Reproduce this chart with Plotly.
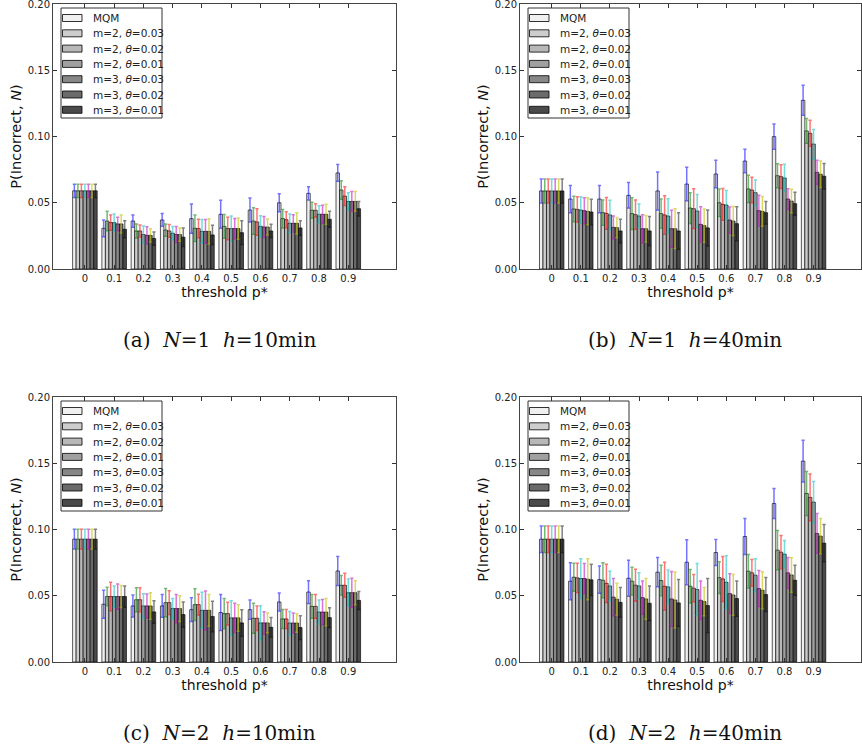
import plotly.graph_objects as go

# thresholds p*
thresholds = ['0', '0.1', '0.2', '0.3', '0.4', '0.5', '0.6', '0.7', '0.8', '0.9']
series = ['MQM', 'm=2, <i>θ</i>=0.03', 'm=2, <i>θ</i>=0.02', 'm=2, <i>θ</i>=0.01',
          'm=3, <i>θ</i>=0.03', 'm=3, <i>θ</i>=0.02', 'm=3, <i>θ</i>=0.01']
captions = ['(a)  <i>N</i>=1  <i>h</i>=10min', '(b)  <i>N</i>=1  <i>h</i>=40min',
            '(c)  <i>N</i>=2  <i>h</i>=10min', '(d)  <i>N</i>=2  <i>h</i>=40min']

# (a) N=1 h=10min, one row per series
vals_a = [
    [0.059, 0.0307, 0.0362, 0.037, 0.038, 0.0413, 0.0445, 0.050, 0.0571, 0.0725],
    [0.059, 0.0362, 0.0287, 0.0294, 0.0307, 0.0322, 0.0362, 0.038, 0.0443, 0.0596],
    [0.059, 0.035, 0.0287, 0.0287, 0.0305, 0.0305, 0.0355, 0.0372, 0.0443, 0.055],
    [0.059, 0.035, 0.026, 0.027, 0.0284, 0.0305, 0.0322, 0.0345, 0.0413, 0.051],
    [0.059, 0.034, 0.0254, 0.026, 0.0284, 0.0305, 0.0317, 0.0345, 0.0413, 0.051],
    [0.059, 0.034, 0.0254, 0.026, 0.0284, 0.0305, 0.0317, 0.0345, 0.0413, 0.051],
    [0.059, 0.030, 0.023, 0.024, 0.0257, 0.0274, 0.0287, 0.031, 0.0375, 0.0455],
]
errs_a = [
    [0.005, 0.0063, 0.0046, 0.0048, 0.011, 0.0105, 0.009, 0.0068, 0.005, 0.0063],
    [0.005, 0.0073, 0.0053, 0.0046, 0.010, 0.009, 0.010, 0.007, 0.006, 0.007],
    [0.005, 0.0058, 0.0045, 0.0048, 0.007, 0.0085, 0.010, 0.006, 0.005, 0.007],
    [0.005, 0.0065, 0.0065, 0.005, 0.009, 0.0095, 0.008, 0.007, 0.0065, 0.0066],
    [0.005, 0.005, 0.0065, 0.006, 0.009, 0.0077, 0.008, 0.0065, 0.0068, 0.0074],
    [0.005, 0.0068, 0.005, 0.005, 0.0096, 0.008, 0.006, 0.008, 0.0075, 0.0074],
    [0.005, 0.0065, 0.005, 0.007, 0.0073, 0.009, 0.005, 0.0055, 0.006, 0.0055],
]

# (b) N=1 h=40min
vals_b = [
    [0.0589, 0.0528, 0.0528, 0.0556, 0.0589, 0.0641, 0.0717, 0.0815, 0.0999, 0.1273],
    [0.0589, 0.0453, 0.0425, 0.0418, 0.0418, 0.046, 0.050, 0.0604, 0.0704, 0.1042],
    [0.0589, 0.045, 0.042, 0.041, 0.0408, 0.0455, 0.0488, 0.0596, 0.0697, 0.1024],
    [0.0589, 0.0445, 0.0408, 0.040, 0.040, 0.0438, 0.0483, 0.0576, 0.0687, 0.0943],
    [0.0589, 0.044, 0.0314, 0.0304, 0.0304, 0.0337, 0.037, 0.044, 0.0528, 0.073],
    [0.0589, 0.0435, 0.0312, 0.0304, 0.0304, 0.0327, 0.0362, 0.0435, 0.0513, 0.0715],
    [0.0589, 0.043, 0.0287, 0.0287, 0.0287, 0.031, 0.0342, 0.0425, 0.0493, 0.070],
]
errs_b = [
    [0.009, 0.0103, 0.0103, 0.0096, 0.0143, 0.0126, 0.0103, 0.0088, 0.0095, 0.0113],
    [0.009, 0.0097, 0.0095, 0.012, 0.011, 0.0116, 0.0103, 0.0103, 0.009, 0.0093],
    [0.009, 0.0096, 0.012, 0.011, 0.0145, 0.015, 0.012, 0.0096, 0.009, 0.0098],
    [0.009, 0.010, 0.011, 0.009, 0.013, 0.0125, 0.011, 0.0096, 0.0103, 0.011],
    [0.009, 0.0098, 0.0086, 0.0106, 0.014, 0.0133, 0.0098, 0.0116, 0.0078, 0.009],
    [0.009, 0.010, 0.0077, 0.010, 0.015, 0.0126, 0.011, 0.0113, 0.0088, 0.010],
    [0.009, 0.0096, 0.0088, 0.011, 0.0138, 0.0136, 0.0128, 0.0085, 0.0087, 0.0097],
]

# (c) N=2 h=10min
vals_c = [
    [0.0927, 0.0436, 0.0423, 0.0423, 0.0395, 0.0373, 0.0395, 0.0453, 0.0528, 0.0687],
    [0.0927, 0.0494, 0.047, 0.0448, 0.0433, 0.0365, 0.033, 0.0325, 0.042, 0.0579],
    [0.0927, 0.0494, 0.047, 0.0448, 0.0433, 0.0365, 0.033, 0.0325, 0.042, 0.0579],
    [0.0927, 0.0494, 0.0423, 0.0403, 0.039, 0.0333, 0.0295, 0.0294, 0.0377, 0.0523],
    [0.0927, 0.0494, 0.0423, 0.0403, 0.039, 0.0333, 0.0295, 0.0294, 0.0377, 0.0523],
    [0.0927, 0.0494, 0.0423, 0.0403, 0.039, 0.0333, 0.0295, 0.0294, 0.0377, 0.0523],
    [0.0927, 0.0494, 0.0378, 0.0358, 0.0343, 0.0295, 0.0262, 0.026, 0.0335, 0.0465],
]
errs_c = [
    [0.0075, 0.0105, 0.0083, 0.0086, 0.009, 0.0136, 0.0073, 0.0068, 0.0086, 0.011],
    [0.0075, 0.007, 0.009, 0.0106, 0.012, 0.0114, 0.0113, 0.0072, 0.009, 0.0073],
    [0.0075, 0.0108, 0.009, 0.009, 0.0078, 0.0086, 0.0093, 0.0072, 0.009, 0.009],
    [0.0075, 0.008, 0.0093, 0.0076, 0.0136, 0.013, 0.013, 0.0088, 0.009, 0.0103],
    [0.0075, 0.0095, 0.009, 0.0106, 0.0146, 0.011, 0.0085, 0.0075, 0.0095, 0.011],
    [0.0075, 0.0083, 0.010, 0.0097, 0.012, 0.010, 0.0075, 0.007, 0.0103, 0.009],
    [0.0075, 0.008, 0.0085, 0.0095, 0.0115, 0.010, 0.0073, 0.009, 0.0075, 0.0068],
]

# (d) N=2 h=40min
vals_d = [
    [0.0927, 0.061, 0.0622, 0.0632, 0.0678, 0.0753, 0.0826, 0.0947, 0.1196, 0.1516],
    [0.0927, 0.064, 0.0617, 0.061, 0.0615, 0.0572, 0.0637, 0.0685, 0.0844, 0.1272],
    [0.0927, 0.0635, 0.0594, 0.058, 0.0572, 0.0557, 0.0627, 0.0673, 0.0829, 0.1242],
    [0.0927, 0.063, 0.0574, 0.0574, 0.0567, 0.0547, 0.0602, 0.0655, 0.0814, 0.1207],
    [0.0927, 0.063, 0.049, 0.0486, 0.0476, 0.0466, 0.0516, 0.0554, 0.0673, 0.097],
    [0.0927, 0.0625, 0.0474, 0.0476, 0.0468, 0.0456, 0.0506, 0.0542, 0.0657, 0.095],
    [0.0927, 0.062, 0.045, 0.0443, 0.0446, 0.0426, 0.0479, 0.0509, 0.0617, 0.0897],
]
errs_d = [
    [0.010, 0.014, 0.0103, 0.0136, 0.011, 0.017, 0.0098, 0.0136, 0.0113, 0.0157],
    [0.010, 0.0106, 0.0133, 0.0105, 0.0115, 0.0126, 0.012, 0.0126, 0.0148, 0.0166],
    [0.010, 0.011, 0.0144, 0.012, 0.018, 0.0103, 0.017, 0.010, 0.0126, 0.0176],
    [0.010, 0.015, 0.011, 0.010, 0.0128, 0.0196, 0.020, 0.0125, 0.0103, 0.0156],
    [0.010, 0.0113, 0.014, 0.0126, 0.0207, 0.0146, 0.015, 0.0136, 0.0116, 0.015],
    [0.010, 0.0155, 0.012, 0.0154, 0.0212, 0.0106, 0.0154, 0.014, 0.013, 0.0133],
    [0.010, 0.0118, 0.0113, 0.013, 0.0176, 0.0204, 0.0133, 0.0128, 0.0113, 0.014],
]

bar_colors = ['#f0f0f0', '#cdcdcd', '#b8b8b8', '#a0a0a0', '#878787', '#6a6a6a', '#4a4a4a']
err_colors = ['rgba(0,0,255,0.55)', 'rgba(0,128,0,0.55)', 'rgba(255,0,0,0.55)',
              'rgba(0,191,191,0.55)', 'rgba(191,0,191,0.55)', 'rgba(191,191,0,0.6)',
              'rgba(0,0,0,0.5)']

W, H = 862, 752
panels = [(vals_a, errs_a), (vals_b, errs_b), (vals_c, errs_c), (vals_d, errs_d)]
xdom = [[53 / W, 396 / W], [520 / W, 861 / W], [53 / W, 396 / W], [520 / W, 861 / W]]
ydom = [[1 - 269 / H, 1 - 4 / H], [1 - 269 / H, 1 - 4 / H],
        [1 - 662 / H, 1 - 397 / H], [1 - 662 / H, 1 - 397 / H]]
xpos = list(range(len(thresholds)))

fig = go.Figure()

for p, (vals, errs) in enumerate(panels):
    sfx = '' if p == 0 else str(p + 1)
    for i, name in enumerate(series):
        fig.add_trace(go.Bar(
            x=xpos, y=vals[i], name=name, showlegend=False,
            xaxis='x' + sfx, yaxis='y' + sfx,
            marker=dict(color=bar_colors[i], line=dict(color='rgba(0,0,0,0.65)', width=1)),
            error_y=dict(type='data', array=errs[i], visible=True,
                         color=err_colors[i], thickness=1.5, width=1.6),
        ))

layout = dict(
    width=W, height=H,
    margin=dict(l=0, r=0, t=0, b=0),
    paper_bgcolor='white', plot_bgcolor='white',
    barmode='group', bargap=0.16, bargroupgap=0,
    font=dict(family='DejaVu Sans', size=10, color='#222'),
    annotations=[], shapes=[],
)

for p in range(4):
    sfx = '' if p == 0 else str(p + 1)
    layout['xaxis' + sfx] = dict(
        domain=xdom[p], anchor='y' + sfx, range=[-1.09, 10.63], automargin=False,
        tickvals=xpos, ticktext=thresholds, ticks='inside', ticklen=4,
        tickcolor='#333', showline=True, linecolor='#444', linewidth=1,
        mirror='ticks', showgrid=False, zeroline=False,
        tickfont=dict(size=10), ticklabeloverflow='allow',
        title=dict(text='threshold p*', font=dict(size=14, color='#111'), standoff=2),
    )
    layout['yaxis' + sfx] = dict(
        domain=ydom[p], anchor='x' + sfx, range=[0, 0.2], automargin=False,
        tickvals=[0, 0.05, 0.10, 0.15, 0.20], tickformat='.2f',
        ticks='inside', ticklen=4, tickcolor='#333',
        showline=True, linecolor='#444', linewidth=1, mirror='ticks',
        showgrid=False, zeroline=False, tickfont=dict(size=10), ticklabeloverflow='allow',
        title=dict(text='P(Incorrect, <i>N</i>)', font=dict(size=14.5, color='#111'), standoff=2),
    )

    # legend box drawn in axis-domain units (pixel offsets from the top-left corner)
    aw = (xdom[p][1] - xdom[p][0]) * W
    ah = (ydom[p][1] - ydom[p][0]) * H
    xr, yr = 'x' + sfx + ' domain', 'y' + sfx + ' domain'
    layout['shapes'].append(dict(
        type='rect', xref=xr, yref=yr, x0=8 / aw, x1=109 / aw,
        y0=1 - 114 / ah, y1=1 - 4 / ah,
        fillcolor='white', line=dict(color='#333', width=1), layer='above'))
    for i, name in enumerate(series):
        yc = 1 - (14 + 15.3 * i) / ah
        layout['shapes'].append(dict(
            type='rect', xref=xr, yref=yr, x0=9.5 / aw, x1=29 / aw,
            y0=yc - 3.5 / ah, y1=yc + 3.5 / ah,
            fillcolor=bar_colors[i], line=dict(color='rgba(0,0,0,0.8)', width=1), layer='above'))
        layout['annotations'].append(dict(
            text=name, xref=xr, yref=yr, x=38 / aw, y=yc,
            xanchor='left', yanchor='middle', showarrow=False,
            font=dict(size=10.5, color='#222')))

    layout['annotations'].append(dict(
        text=captions[p], xref='paper', yref='paper',
        x=(xdom[p][0] + xdom[p][1]) / 2 - 0.006, y=ydom[p][0] - 0.094,
        xanchor='center', yanchor='middle', showarrow=False,
        font=dict(family='DejaVu Serif', size=20, color='#111'),
    ))

fig.update_layout(**layout)
# drop the default page margin so the figure sits at the window's top-left corner
fig.write_html('out.html', config={'displayModeBar': False},
               post_script="document.body.style.margin='0';")
